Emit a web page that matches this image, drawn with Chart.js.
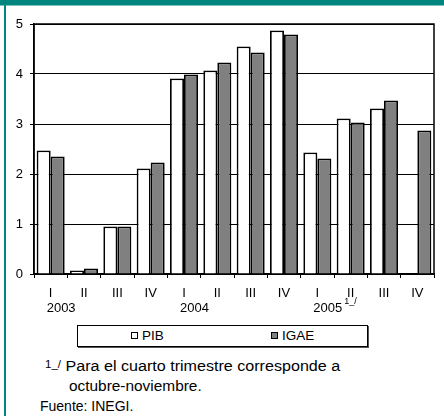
<!DOCTYPE html>
<html>
<head>
<meta charset="utf-8">
<script src="https://cdn.jsdelivr.net/npm/chart.js@4"></script>
<style>
    body { margin: 0; width: 444px; height: 416px; background: #fff; position: relative; overflow: hidden;
           font-family: "Liberation Sans", Arial, sans-serif; color: #000; }
    #topBand { position: absolute; left: 0; top: 0; width: 444px; height: 5px; background: #00857f; border-bottom: 1px solid #7fc2bf; }
    #leftBand { position: absolute; left: 4px; top: 0; width: 2px; height: 416px; background: #00857f; }
    #chartBox { position: absolute; left: 0; top: 0; }
    #legend { position: absolute; left: 77px; top: 325px; width: 289px; height: 20px; border: 1.5px solid #000; box-shadow: 1px 1px 0 #555; }
    .item { position: absolute; top: 2px; font-size: 13.5px; line-height: 16px; }
    .mark { display: inline-block; width: 5px; height: 5px; border: 1.5px solid #000; margin-right: 4px; vertical-align: 1px; }
    .note { position: absolute; font-size: 14px; white-space: nowrap; transform-origin: left top; }
    .sup { font-size: 10px; vertical-align: 3px; }
</style>
</head>
<body>
<div id="topBand"></div>
<div id="leftBand"></div>
<div id="chartBox"><canvas id="gdpChart" width="444" height="320"></canvas></div>
<div id="legend">
    <div class="item" style="left:53px"><span class="mark" style="background:#fff"></span>PIB</div>
    <div class="item" style="left:193px"><span class="mark" style="background:#808080"></span>IGAE</div>
</div>
<div class="note" style="left:45px; top:358px; transform: scaleX(1.15)"><span class="sup">1_/</span> Para el cuarto trimestre corresponde a</div>
<div class="note" style="left:69px; top:378px; transform: scaleX(1.1)">octubre-noviembre.</div>
<div class="note" style="left:40px; top:398px">Fuente: INEGI.</div>

<script>
const quarters = ['I','II','III','IV','I','II','III','IV','I','II','III','IV'];
const years = ['2003','2004','2005'];
const pib  = [2.47, 0.07, 0.95, 2.11, 3.91, 4.07, 4.55, 4.87, 2.43, 3.11, 3.31, null];
const igae = [2.35, 0.11, 0.95, 2.23, 3.99, 4.23, 4.43, 4.79, 2.31, 3.03, 3.47, 2.87];

const font = '"Liberation Sans", Arial, sans-serif';

// frame round the plot area + year labels under the first quarter
const framePlugin = {
    id: 'frame',
    beforeDatasetsDraw(chart) {
        const a = chart.chartArea, ctx = chart.ctx;
        ctx.save();
        ctx.strokeStyle = '#000';
        ctx.lineWidth = 1.5;
        ctx.strokeRect(a.left, a.top, a.right - a.left, a.bottom - a.top);
        ctx.restore();
    },
    afterDraw(chart) {
        const ctx = chart.ctx, x = chart.scales.x;
        ctx.save();
        ctx.fillStyle = '#000';
        ctx.font = '13px ' + font;
        ctx.textAlign = 'left';
        years.forEach((y, i) => {
            const px = x.getPixelForValue(i * 4) - 4;
            ctx.fillText(y, px, 312);
            if (i === years.length - 1) {
                const w = ctx.measureText(y).width;
                ctx.font = '9px ' + font;
                ctx.fillText('1_/', px + w + 2, 304);
            }
        });
        ctx.restore();
    }
};

new Chart(document.getElementById('gdpChart'), {
    type: 'bar',
    data: {
        labels: quarters,
        datasets: [
            { label: 'PIB', data: pib, backgroundColor: '#ffffff', borderColor: '#000', borderWidth: 1.8 },
            { label: 'IGAE', data: igae, backgroundColor: '#808080', borderColor: '#000', borderWidth: 1.8 }
        ]
    },
    options: {
        responsive: false,
        animation: false,
        devicePixelRatio: 1,
        layout: { padding: { top: 24, right: 10, left: 0, bottom: 0 } },
        datasets: { bar: { categoryPercentage: 0.84, barPercentage: 1 } },
        plugins: { legend: { display: false }, tooltip: { enabled: false } },
        scales: {
            x: {
                afterFit: s => { s.height = 46; },
                grid: { drawOnChartArea: false, drawTicks: true, tickLength: 4, color: '#000', lineWidth: 1 },
                border: { color: '#000', width: 1.5 },
                ticks: { color: '#000', padding: 8, maxRotation: 0, autoSkip: false,
                         font: { family: font, size: 13 } }
            },
            y: {
                min: 0, max: 5,
                afterFit: s => { s.width = 34; },
                grid: { color: '#000', lineWidth: 1, tickLength: 4 },
                border: { color: '#000', width: 1.5 },
                ticks: { stepSize: 1, color: '#000', padding: 7,
                         font: { family: font, size: 13 } }
            }
        }
    },
    plugins: [framePlugin]
});
</script>
</body>
</html>
